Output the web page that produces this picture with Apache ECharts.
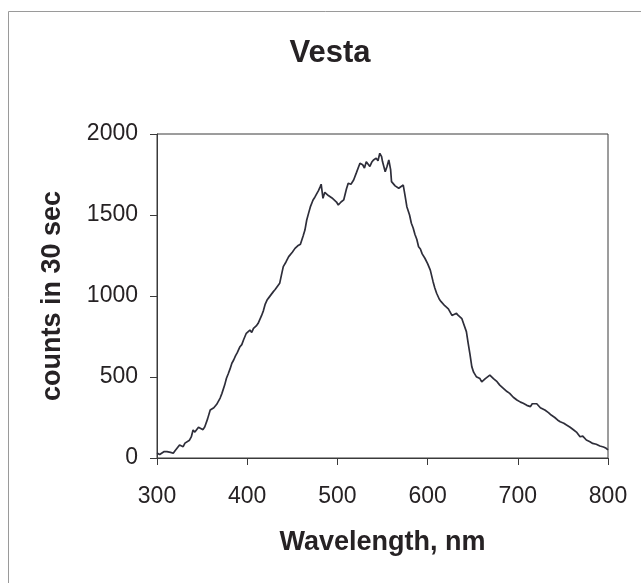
<!DOCTYPE html>
<html><head><meta charset="utf-8">
<script src="https://cdn.jsdelivr.net/npm/echarts@6/dist/echarts.min.js"></script>
<style>html,body{margin:0;padding:0;background:#fff}#c{width:641px;height:583px}</style>
</head><body><div id="c"></div>
<script>
const titleText = "Vesta";
const xAxisName = "Wavelength, nm";
const yAxisName = "counts in 30 sec";
const wavelengths = [300,303,305,308,311,313,315,318,320,322,325,327,329,331,333,336,338,340,342,344,346,348,351,353,356,359,361,363,366,368,370,372,375,377,379,381,383,385,387,389,392,394,396,399,401,403,405,407,410,412,414,416,418,420,422,424,426,429,431,433,436,438,440,443,446,448,450,453,456,459,462,464,466,468,470,473,475,477,479,481,482,484,486,488,490,492,494,496,499,501,504,507,510,512,515,518,521,523,525,528,530,532,534,536,538,540,543,545,547,549,550,553,555,557,559,560,562,564,566,568,570,573,575,577,580,582,584,586,588,590,592,594,597,600,603,606,608,610,613,615,617,619,621,623,625,627,629,632,634,636,638,640,643,645,647,649,651,654,656,658,660,662,664,666,669,671,673,675,677,680,682,684,686,688,691,693,695,697,699,701,703,706,708,710,712,714,716,718,721,723,725,727,730,732,734,737,739,741,744,747,749,751,754,756,758,760,762,765,767,769,772,774,776,778,780,783,785,787,789,791,793,795,798,800];
const counts = [30,22,25,40,39,28,35,29,45,55,80,68,70,92,90,110,130,173,160,165,190,193,175,193,240,296,285,310,330,338,370,399,450,492,520,550,585,605,630,650,687,700,730,770,760,790,775,800,815,830,841,880,910,950,975,990,1000,1027,1040,1050,1078,1130,1181,1210,1243,1250,1270,1294,1310,1320,1370,1407,1469,1510,1550,1593,1610,1630,1650,1675,1690,1603,1640,1630,1620,1613,1605,1600,1580,1562,1580,1593,1660,1696,1690,1716,1760,1750,1819,1810,1790,1829,1820,1800,1825,1840,1850,1835,1881,1860,1830,1767,1800,1840,1780,1706,1700,1680,1690,1665,1660,1685,1620,1551,1500,1449,1420,1380,1350,1304,1290,1260,1233,1200,1160,1090,1050,1017,980,965,955,940,930,920,910,880,890,893,880,870,860,852,780,708,640,564,530,502,495,490,470,481,490,500,512,505,490,480,471,450,455,430,420,410,399,390,375,370,358,350,345,338,340,325,320,317,335,330,335,327,310,305,296,285,280,265,260,250,235,224,230,215,204,200,190,180,173,160,150,131,135,125,111,115,100,90,95,85,80,74,72,68,60,50];
const xMin = 300, xMax = 800, xStep = 100;
const yMin = 0, yMax = 2000, yStep = 500;

const chart = echarts.init(document.getElementById('c'), null, {renderer:'canvas'});
const font = "'Liberation Sans', Arial, sans-serif";
chart.setOption({
  animation: false,
  backgroundColor: '#ffffff',
  title: {
    text: titleText, left: 325, top: 33, textAlign: 'center',
    textStyle: {fontFamily: font, fontSize: 31, fontWeight: 'bold', color: '#262224'}
  },
  graphic: [{
    type: 'rect', shape: {x: 8.5, y: 11.5, width: 700, height: 700},
    style: {fill: 'none', stroke: '#9a9a9a', lineWidth: 1}, silent: true
  }],
  grid: {left: 157, right: 33, top: 134, bottom: 125, show: true, borderColor: '#3a3a3a', borderWidth: 1, backgroundColor: 'transparent'},
  xAxis: {
    type: 'value', min: xMin, max: xMax, interval: xStep,
    name: xAxisName, nameLocation: 'middle', nameGap: 71,
    nameTextStyle: {fontFamily: font, fontSize: 27, fontWeight: 'bold', color: '#262224'},
    axisLine: {show: true, onZero: false, lineStyle: {color: '#3a3a3a', width: 1}},
    axisTick: {show: true, inside: false, length: 7, lineStyle: {color: '#3a3a3a'}},
    axisLabel: {fontFamily: font, fontSize: 23, color: '#262224', margin: 27},
    splitLine: {show: false}
  },
  yAxis: {
    type: 'value', min: yMin, max: yMax, interval: yStep,
    name: yAxisName, nameLocation: 'middle', nameGap: 91, nameRotate: 90,
    nameTextStyle: {fontFamily: font, fontSize: 27, fontWeight: 'bold', color: '#262224'},
    axisLine: {show: true, lineStyle: {color: '#3a3a3a', width: 1}},
    axisTick: {show: true, inside: false, length: 7, lineStyle: {color: '#3a3a3a'}},
    axisLabel: {fontFamily: font, fontSize: 23, color: '#262224', margin: 19, formatter: v => String(v)},
    splitLine: {show: false}
  },
  series: [{
    type: 'line', data: wavelengths.map((w, i) => [w, counts[i]]),
    showSymbol: false, symbol: 'none', smooth: false,
    lineStyle: {color: '#2e2e3a', width: 1.7}
  }]
});
</script></body></html>
